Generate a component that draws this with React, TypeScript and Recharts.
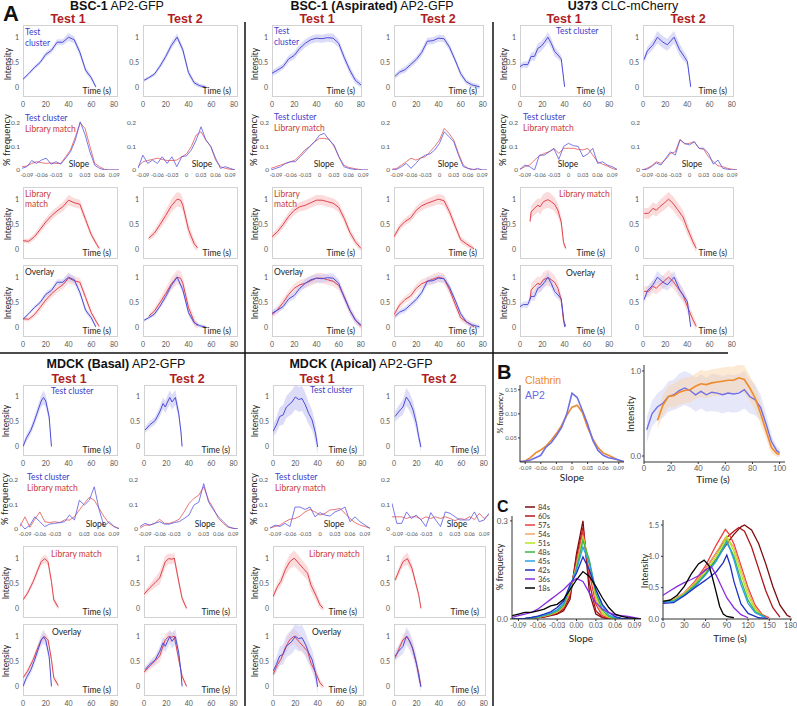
import React from 'react';
import { ComposedChart, Line, Area, XAxis, YAxis } from 'recharts';

const SANS = 'Lato, "Liberation Sans", sans-serif';
const HEAD = '"Liberation Sans", Arial, sans-serif';

const TEST_LINE = '#4c4cda';
const TEST_BAND = '#c4c4f3';
const LIB_LINE = '#e0444c';
const LIB_BAND = '#f9c3c3';
const HIST_BLUE = '#5858e4';
const HIST_RED = '#e45454';
const TXT_BLUE = '#3c3ccc';
const TXT_RED = '#cc3b3b';
const TEST_RED = '#b01e23';

// shared axes
const slopeBins = [-0.1, -0.09, -0.08, -0.07, -0.06, -0.05, -0.04, -0.03, -0.02, -0.01, 0, 0.01, 0.02, 0.03, 0.04, 0.05, 0.06, 0.07, 0.08, 0.09, 0.1];
const slopeTicks = [-0.09, -0.06, -0.03, 0, 0.03, 0.06, 0.09];
const timeTicks = [0, 20, 40, 60, 80];
const intensityTicks = [0, 0.5, 1];
const freqTicks = [0, 0.1, 0.2];

// ---- BSC-1 AP2-GFP ----
const bsc1T1TestTime = [0, 5, 10, 15, 20, 25, 30, 35, 40, 45, 50, 55, 60, 64];
const bsc1T1TestInt = [0.17, 0.28, 0.4, 0.5, 0.66, 0.74, 0.9, 0.9, 1.0, 0.95, 0.7, 0.35, 0.2, 0.02];
const bsc1T1TestSd = [0.03, 0.03, 0.04, 0.04, 0.05, 0.05, 0.06, 0.06, 0.08, 0.07, 0.07, 0.06, 0.05, 0.03];
const bsc1T1LibTime = [0, 5, 10, 15, 20, 25, 30, 35, 40, 45, 50, 55, 60, 65, 67];
const bsc1T1LibInt = [0.18, 0.17, 0.26, 0.4, 0.55, 0.67, 0.77, 0.85, 0.98, 0.93, 0.9, 0.6, 0.3, 0.1, 0.03];
const bsc1T1LibSd = [0.04, 0.05, 0.06, 0.07, 0.08, 0.08, 0.08, 0.09, 0.1, 0.09, 0.09, 0.08, 0.06, 0.05, 0.04];
const bsc1T1HistTest = [0.007, 0.014, 0.04, 0.028, 0.042, 0.05, 0.025, 0.035, 0.025, 0.05, 0.077, 0.127, 0.204, 0.15, 0.077, 0.02, 0.007, 0, 0, 0, 0];
const bsc1T1HistLib = [0.014, 0.017, 0.028, 0.035, 0.031, 0.028, 0.03, 0.028, 0.028, 0.056, 0.085, 0.14, 0.2, 0.176, 0.1, 0.028, 0.014, 0.003, 0, 0, 0];

const bsc1T2TestTime = [1, 5, 10, 15, 20, 25, 30, 35, 40, 45, 50, 55];
const bsc1T2TestInt = [0.15, 0.2, 0.27, 0.43, 0.62, 0.84, 1.0, 0.75, 0.3, 0.1, 0.04, 0.02];
const bsc1T2TestSd = [0.03, 0.03, 0.04, 0.05, 0.06, 0.07, 0.07, 0.07, 0.06, 0.05, 0.04, 0.03];
const bsc1T2LibTime = [5, 10, 15, 20, 25, 30, 33, 35, 40, 45, 48];
const bsc1T2LibInt = [0.23, 0.33, 0.5, 0.68, 0.87, 1.0, 0.98, 0.88, 0.4, 0.12, 0.04];
const bsc1T2LibSd = [0.05, 0.07, 0.09, 0.11, 0.13, 0.14, 0.14, 0.13, 0.12, 0.09, 0.06];
const bsc1T2HistTest = [0.007, 0.063, 0.028, 0.042, 0.028, 0.056, 0.028, 0.056, 0.014, 0.056, 0.06, 0.085, 0.127, 0.183, 0.127, 0.1, 0.05, 0.007, 0.014, 0.007, 0];
const bsc1T2HistLib = [0.014, 0.035, 0.04, 0.045, 0.05, 0.045, 0.04, 0.04, 0.042, 0.056, 0.068, 0.1, 0.148, 0.162, 0.127, 0.1, 0.042, 0.014, 0.007, 0.003, 0];

// ---- BSC-1 (Aspirated) AP2-GFP ----
const aspT1TestTime = [0, 5, 10, 15, 20, 25, 30, 35, 40, 45, 50, 55, 60, 65, 70, 75, 80];
const aspT1TestInt = [0.29, 0.35, 0.42, 0.57, 0.64, 0.78, 0.88, 0.95, 0.98, 0.97, 0.99, 0.98, 0.88, 0.6, 0.35, 0.15, 0.06];
const aspT1TestSd = [0.06, 0.06, 0.06, 0.07, 0.07, 0.08, 0.08, 0.08, 0.08, 0.08, 0.08, 0.09, 0.08, 0.08, 0.08, 0.07, 0.06];
const aspT1LibTime = [0, 5, 10, 15, 20, 25, 30, 35, 40, 45, 50, 55, 60, 65, 70, 75, 80];
const aspT1LibInt = [0.26, 0.36, 0.5, 0.66, 0.78, 0.85, 0.88, 0.93, 0.98, 0.98, 0.95, 0.92, 0.84, 0.62, 0.35, 0.16, 0.03];
const aspT1LibSd = [0.06, 0.07, 0.08, 0.08, 0.09, 0.09, 0.1, 0.1, 0.1, 0.1, 0.1, 0.1, 0.1, 0.09, 0.08, 0.07, 0.06];
const aspT1HistTest = [0, 0.007, 0.014, 0.028, 0.035, 0.035, 0.056, 0.077, 0.1, 0.12, 0.148, 0.155, 0.127, 0.106, 0.056, 0.014, 0.007, 0.003, 0, 0, 0];
const aspT1HistLib = [0.007, 0.014, 0.021, 0.028, 0.035, 0.042, 0.063, 0.085, 0.1, 0.12, 0.134, 0.134, 0.13, 0.1, 0.056, 0.021, 0.011, 0.007, 0.003, 0, 0];

const aspT2TestTime = [1, 5, 10, 15, 20, 25, 30, 35, 40, 45, 50, 55, 60, 65, 70, 77];
const aspT2TestInt = [0.23, 0.31, 0.36, 0.46, 0.56, 0.7, 0.92, 0.93, 0.98, 0.97, 0.8, 0.55, 0.28, 0.12, 0.06, 0.02];
const aspT2TestSd = [0.05, 0.05, 0.06, 0.06, 0.06, 0.07, 0.07, 0.07, 0.07, 0.07, 0.07, 0.06, 0.06, 0.05, 0.05, 0.04];
const aspT2LibTime = [0, 5, 10, 15, 20, 25, 30, 35, 40, 45, 50, 55, 60, 65, 70, 72];
const aspT2LibInt = [0.26, 0.45, 0.56, 0.63, 0.78, 0.87, 0.92, 0.96, 1.0, 0.97, 0.75, 0.47, 0.2, 0.12, 0.05, 0.02];
const aspT2LibSd = [0.06, 0.07, 0.07, 0.08, 0.08, 0.09, 0.09, 0.1, 0.1, 0.1, 0.09, 0.08, 0.07, 0.06, 0.05, 0.05];
const aspT2HistTest = [0, 0.003, 0.014, 0.028, 0.007, 0.028, 0.05, 0.063, 0.068, 0.085, 0.113, 0.162, 0.141, 0.12, 0.063, 0.014, 0.007, 0, 0.007, 0, 0];
const aspT2HistLib = [0.003, 0.007, 0.021, 0.035, 0.05, 0.042, 0.05, 0.056, 0.077, 0.1, 0.127, 0.176, 0.155, 0.127, 0.07, 0.021, 0.007, 0.003, 0, 0, 0];

// ---- U373 CLC-mCherry ----
const u373T1TestTime = [0, 3, 7, 10, 13, 16, 19, 22, 25, 28, 31, 34, 37, 40];
const u373T1TestInt = [0.42, 0.46, 0.46, 0.62, 0.62, 0.78, 0.82, 0.9, 1.0, 0.88, 0.72, 0.65, 0.57, 0.02];
const u373T1TestSd = [0.05, 0.06, 0.07, 0.08, 0.09, 0.1, 0.1, 0.1, 0.1, 0.1, 0.09, 0.08, 0.07, 0.03];
const u373T1LibTime = [9, 10, 13, 16, 18, 21, 25, 28, 31, 34, 37, 39, 41];
const u373T1LibInt = [0.56, 0.75, 0.82, 0.88, 0.85, 0.95, 0.99, 0.95, 0.9, 0.78, 0.55, 0.15, 0.03];
const u373T1LibSd = [0.1, 0.12, 0.13, 0.14, 0.15, 0.15, 0.16, 0.15, 0.14, 0.13, 0.1, 0.07, 0.05];
const u373T1HistTest = [0.003, 0.021, 0.014, 0, 0.063, 0.063, 0.077, 0.09, 0.045, 0.1, 0.113, 0.103, 0.1, 0.056, 0.068, 0.092, 0.028, 0.035, 0.021, 0.014, 0.003];
const u373T1HistLib = [0.003, 0.014, 0.021, 0.042, 0.06, 0.07, 0.077, 0.092, 0.07, 0.092, 0.092, 0.092, 0.087, 0.085, 0.092, 0.063, 0.035, 0.025, 0.017, 0.007, 0];

const u373T2TestTime = [1, 4, 9, 13, 18, 22, 28, 33, 37, 40, 43];
const u373T2TestInt = [0.56, 0.73, 0.85, 1.0, 0.9, 0.85, 1.0, 0.75, 0.62, 0.52, 0.02];
const u373T2TestSd = [0.07, 0.08, 0.1, 0.12, 0.12, 0.12, 0.12, 0.12, 0.1, 0.08, 0.04];
const u373T2LibTime = [1, 5, 9, 12, 15, 19, 23, 27, 31, 36, 40, 45, 48];
const u373T2LibInt = [0.72, 0.72, 0.82, 0.78, 0.85, 0.92, 1.0, 0.92, 0.8, 0.65, 0.42, 0.16, 0.03];
const u373T2LibSd = [0.1, 0.11, 0.12, 0.12, 0.13, 0.14, 0.14, 0.14, 0.14, 0.13, 0.12, 0.1, 0.08];
const u373T2HistTest = [0, 0.003, 0.014, 0.03, 0.021, 0.05, 0.077, 0.063, 0.127, 0.113, 0.106, 0.12, 0.092, 0.092, 0.07, 0.025, 0.042, 0.007, 0.003, 0, 0];
const u373T2HistLib = [0, 0.007, 0.018, 0.035, 0.028, 0.045, 0.07, 0.077, 0.13, 0.11, 0.113, 0.12, 0.092, 0.087, 0.056, 0.035, 0.018, 0.014, 0.007, 0.003, 0];

// ---- MDCK (Basal) AP2-GFP ----
const basalT1TestTime = [0, 3, 7, 10, 13, 16, 18, 20, 23, 25];
const basalT1TestInt = [0.01, 0.18, 0.34, 0.52, 0.72, 0.92, 0.99, 0.92, 0.6, 0.01];
const basalT1TestSd = [0.05, 0.07, 0.08, 0.09, 0.1, 0.12, 0.14, 0.12, 0.1, 0.05];
const basalT1LibTime = [0, 4, 9, 13, 16, 19, 22, 25, 27, 31];
const basalT1LibInt = [0.18, 0.31, 0.54, 0.77, 0.93, 0.99, 0.93, 0.54, 0.18, 0.03];
const basalT1LibSd = [0.04, 0.05, 0.06, 0.07, 0.08, 0.08, 0.08, 0.07, 0.07, 0.05];
const basalT1HistTest = [0.023, 0, 0.016, 0.05, 0.03, 0.01, 0.02, 0.023, 0.026, 0.03, 0.057, 0.037, 0.118, 0.098, 0.118, 0.173, 0.078, 0.01, 0.03, 0.01, 0];
const basalT1HistLib = [0.01, 0.05, 0.007, 0.04, 0.07, 0.03, 0.026, 0.03, 0.026, 0.037, 0.037, 0.05, 0.078, 0.105, 0.13, 0.118, 0.084, 0.05, 0.023, 0.01, 0.003];

const basalT2TestTime = [1, 5, 10, 14, 17, 19, 21, 23, 25, 28, 31, 33, 34];
const basalT2TestInt = [0.34, 0.44, 0.53, 0.7, 0.87, 0.8, 0.9, 0.99, 0.9, 0.99, 0.67, 0.3, 0.01];
const basalT2TestSd = [0.06, 0.07, 0.08, 0.1, 0.12, 0.12, 0.13, 0.14, 0.15, 0.15, 0.1, 0.06, 0.03];
const basalT2LibTime = [0, 5, 10, 14, 19, 22, 25, 27, 31, 34, 38];
const basalT2LibInt = [0.29, 0.41, 0.52, 0.61, 0.93, 0.99, 0.98, 1.0, 0.54, 0.21, 0.01];
const basalT2LibSd = [0.05, 0.07, 0.1, 0.13, 0.12, 0.1, 0.1, 0.1, 0.08, 0.06, 0.04];
const basalT2HistTest = [0.01, 0.023, 0.016, 0.023, 0.03, 0.02, 0.02, 0.026, 0.03, 0.043, 0.057, 0.098, 0.11, 0.186, 0.11, 0.078, 0.05, 0.03, 0.01, 0.003, 0];
const basalT2HistLib = [0.003, 0.016, 0.016, 0.023, 0.04, 0.023, 0.023, 0.03, 0.04, 0.07, 0.105, 0.125, 0.139, 0.173, 0.118, 0.084, 0.043, 0.023, 0.007, 0.003, 0];

// ---- MDCK (Apical) AP2-GFP ----
const apicalT1TestTime = [0, 3, 6, 9, 12, 17, 20, 23, 26, 29, 32, 35, 38, 40];
const apicalT1TestInt = [0.31, 0.44, 0.61, 0.64, 0.8, 0.9, 1.0, 0.95, 0.97, 0.84, 0.67, 0.54, 0.28, 0.0];
const apicalT1TestSd = [0.12, 0.15, 0.18, 0.2, 0.22, 0.24, 0.25, 0.25, 0.25, 0.24, 0.22, 0.2, 0.18, 0.15];
const apicalT1LibTime = [0, 4, 7, 11, 15, 19, 23, 27, 31, 34, 39, 42, 45];
const apicalT1LibInt = [0.24, 0.44, 0.54, 0.77, 0.93, 1.0, 0.9, 0.8, 0.7, 0.47, 0.24, 0.08, 0.01];
const apicalT1LibSd = [0.06, 0.08, 0.1, 0.12, 0.14, 0.15, 0.15, 0.14, 0.13, 0.12, 0.1, 0.08, 0.05];
const apicalT1HistTest = [0.003, 0.016, 0.01, 0.023, 0.01, 0.09, 0.09, 0.08, 0.09, 0.05, 0.067, 0.057, 0.053, 0.07, 0.078, 0.09, 0.03, 0.05, 0.03, 0.016, 0.003];
const apicalT1HistLib = [0.005, 0.01, 0.016, 0.03, 0.04, 0.043, 0.053, 0.07, 0.08, 0.07, 0.057, 0.064, 0.078, 0.08, 0.084, 0.064, 0.043, 0.026, 0.016, 0.01, 0.003];

const apicalT2TestTime = [1, 4, 8, 11, 14, 17, 20, 22, 24];
const apicalT2TestInt = [0.61, 0.7, 0.8, 1.0, 0.9, 0.74, 0.47, 0.21, 0.0];
const apicalT2TestSd = [0.1, 0.12, 0.15, 0.18, 0.18, 0.17, 0.15, 0.12, 0.1];
const apicalT2LibTime = [1, 5, 8, 12, 16, 19, 22, 24];
const apicalT2LibInt = [0.57, 0.78, 0.93, 0.99, 0.8, 0.54, 0.28, 0.01];
const apicalT2LibSd = [0.06, 0.08, 0.1, 0.12, 0.1, 0.08, 0.06, 0.04];
const apicalT2HistTest = [0.105, 0.023, 0.023, 0.07, 0.043, 0.057, 0.037, 0.01, 0.067, 0.037, 0.01, 0.07, 0.064, 0.05, 0.037, 0.037, 0.037, 0.07, 0.03, 0.037, 0.064];
const apicalT2HistLib = [0.05, 0.05, 0.05, 0.043, 0.05, 0.05, 0.039, 0.05, 0.043, 0.05, 0.043, 0.05, 0.043, 0.034, 0.043, 0.039, 0.05, 0.039, 0.064, 0.043, 0.06];

// ---- B ----
const bClathrinSlope = [0, 0.002, 0.009, 0.019, 0.025, 0.033, 0.045, 0.059, 0.076, 0.097, 0.114, 0.118, 0.103, 0.072, 0.048, 0.03, 0.019, 0.014, 0.009, 0.003, 0];
const bAp2Slope = [0.001, 0.002, 0.004, 0.009, 0.014, 0.031, 0.04, 0.055, 0.072, 0.1, 0.143, 0.134, 0.107, 0.079, 0.045, 0.024, 0.014, 0.009, 0.007, 0.004, 0.001];
const bAp2Time = [2, 6, 10, 14, 18, 22, 26, 30, 34, 38, 42, 46, 50, 54, 58, 62, 66, 70, 74, 78, 82, 86, 90, 94, 98, 100];
const bAp2Int = [0.31, 0.5, 0.58, 0.62, 0.7, 0.72, 0.77, 0.8, 0.77, 0.72, 0.76, 0.72, 0.75, 0.74, 0.72, 0.74, 0.73, 0.74, 0.78, 0.7, 0.66, 0.57, 0.38, 0.17, 0.06, 0.04];
const bAp2Sd = [0.15, 0.15, 0.16, 0.17, 0.18, 0.18, 0.2, 0.2, 0.2, 0.2, 0.2, 0.2, 0.22, 0.22, 0.22, 0.22, 0.22, 0.22, 0.22, 0.2, 0.18, 0.15, 0.12, 0.08, 0.05, 0.04];
const bClathrinTime = [10, 14, 18, 22, 26, 30, 34, 38, 42, 46, 50, 54, 58, 62, 66, 70, 74, 78, 82, 86, 90, 94, 98, 100];
const bClathrinInt = [0.42, 0.6, 0.7, 0.71, 0.75, 0.77, 0.78, 0.82, 0.85, 0.84, 0.86, 0.87, 0.88, 0.89, 0.89, 0.92, 0.9, 0.8, 0.68, 0.5, 0.3, 0.1, 0.03, 0.02];
const bClathrinSd = [0.1, 0.12, 0.13, 0.14, 0.15, 0.15, 0.15, 0.15, 0.16, 0.16, 0.16, 0.16, 0.16, 0.16, 0.16, 0.16, 0.16, 0.15, 0.14, 0.13, 0.1, 0.07, 0.04, 0.03];

// ---- C ----
const cLabels = ['84s', '60s', '57s', '54s', '51s', '48s', '45s', '42s', '36s', '18s'];
const cColors = ['#7b0c0c', '#b0171b', '#f03c3c', '#f2a66a', '#b5e61d', '#3cb44b', '#2aa0e6', '#1f2fc0', '#8a2be2', '#000000'];
const cSlope84 = [0, 0, 0, 0.002, 0.004, 0.006, 0.01, 0.015, 0.025, 0.06, 0.2, 0.3, 0.08, 0.015, 0.004, 0.001, 0, 0, 0, 0, 0];
const cSlope60 = [0, 0, 0, 0.002, 0.004, 0.007, 0.012, 0.017, 0.03, 0.07, 0.19, 0.28, 0.11, 0.025, 0.006, 0.002, 0, 0, 0, 0, 0];
const cSlope57 = [0, 0, 0, 0.003, 0.005, 0.008, 0.013, 0.02, 0.035, 0.08, 0.17, 0.27, 0.14, 0.045, 0.01, 0.003, 0.001, 0, 0, 0, 0];
const cSlope54 = [0, 0, 0.001, 0.003, 0.006, 0.009, 0.014, 0.021, 0.038, 0.085, 0.165, 0.255, 0.16, 0.06, 0.015, 0.005, 0.002, 0, 0, 0, 0];
const cSlope51 = [0, 0, 0.001, 0.003, 0.006, 0.01, 0.015, 0.022, 0.04, 0.09, 0.16, 0.25, 0.17, 0.07, 0.02, 0.006, 0.002, 0.001, 0, 0, 0];
const cSlope48 = [0, 0, 0.001, 0.003, 0.006, 0.01, 0.016, 0.024, 0.042, 0.095, 0.155, 0.24, 0.18, 0.08, 0.028, 0.008, 0.003, 0.001, 0, 0, 0];
const cSlope45 = [0, 0.001, 0.002, 0.004, 0.007, 0.012, 0.018, 0.028, 0.048, 0.1, 0.15, 0.22, 0.17, 0.09, 0.04, 0.012, 0.004, 0.001, 0, 0, 0];
const cSlope42 = [0, 0.001, 0.002, 0.005, 0.009, 0.015, 0.022, 0.035, 0.055, 0.105, 0.14, 0.19, 0.15, 0.09, 0.045, 0.02, 0.007, 0.002, 0.001, 0, 0];
const cSlope36 = [0.005, 0.01, 0.015, 0.02, 0.03, 0.045, 0.06, 0.075, 0.09, 0.11, 0.124, 0.115, 0.08, 0.05, 0.03, 0.02, 0.012, 0.01, 0.008, 0.004, 0];
const cSlope18 = [0.01, 0.015, 0.02, 0.02, 0.025, 0.03, 0.04, 0.045, 0.06, 0.09, 0.12, 0.145, 0.13, 0.1, 0.065, 0.035, 0.015, 0.008, 0.004, 0.002, 0];

const cTime84 = [0, 15, 30, 45, 60, 75, 90, 100, 110, 115, 125, 135, 145, 155, 165, 175, 180];
const cInt84 = [0.28, 0.3, 0.38, 0.52, 0.72, 0.95, 1.2, 1.35, 1.47, 1.5, 1.42, 1.2, 0.88, 0.52, 0.22, 0.06, 0.03];
const cTime60 = [0, 15, 30, 45, 60, 75, 90, 100, 107, 115, 125, 135, 145, 155, 165];
const cInt60 = [0.27, 0.3, 0.4, 0.57, 0.8, 1.05, 1.3, 1.4, 1.46, 1.4, 1.15, 0.8, 0.45, 0.18, 0.03];
const cTime57 = [0, 15, 30, 45, 60, 75, 88, 93, 100, 110, 120, 130, 140, 150];
const cInt57 = [0.28, 0.31, 0.42, 0.6, 0.85, 1.18, 1.43, 1.36, 1.2, 0.85, 0.5, 0.22, 0.07, 0.02];
const cTime54 = [0, 15, 30, 45, 60, 75, 85, 88, 95, 100, 110, 120, 130, 140];
const cInt54 = [0.29, 0.31, 0.42, 0.58, 0.8, 1.05, 1.25, 1.3, 1.22, 1.15, 0.8, 0.45, 0.18, 0.05];
const cTime51 = [0, 15, 30, 45, 60, 75, 85, 90, 95, 100, 110, 120, 130, 140];
const cInt51 = [0.28, 0.3, 0.4, 0.56, 0.75, 1.0, 1.2, 1.32, 1.2, 1.08, 0.72, 0.38, 0.15, 0.05];
const cTime48 = [0, 15, 30, 45, 60, 75, 85, 90, 95, 100, 110, 120, 130, 145];
const cInt48 = [0.28, 0.29, 0.39, 0.54, 0.72, 0.95, 1.15, 1.25, 1.12, 1.0, 0.62, 0.3, 0.12, 0.03];
const cTime45 = [0, 15, 30, 45, 60, 75, 85, 90, 95, 100, 110, 120, 130, 145];
const cInt45 = [0.27, 0.28, 0.38, 0.52, 0.7, 0.92, 1.12, 1.22, 1.1, 0.95, 0.55, 0.25, 0.1, 0.02];
const cTime42 = [0, 15, 30, 45, 60, 75, 85, 90, 95, 100, 110, 120, 135, 148];
const cInt42 = [0.25, 0.26, 0.37, 0.5, 0.62, 0.75, 0.9, 1.02, 0.85, 0.6, 0.24, 0.09, 0.02, 0.01];
const cTime36 = [0, 10, 20, 30, 40, 50, 60, 68, 75, 80, 90, 100, 110, 120];
const cInt36 = [0.38, 0.45, 0.52, 0.58, 0.63, 0.69, 0.78, 0.84, 0.7, 0.58, 0.34, 0.18, 0.07, 0.02];
const cTime18 = [0, 10, 20, 30, 40, 50, 58, 65, 70, 75, 80, 85, 90, 100];
const cInt18 = [0.28, 0.3, 0.38, 0.52, 0.72, 0.88, 0.94, 0.85, 0.65, 0.43, 0.2, 0.08, 0.04, 0.02];

type Curve = { t: number[]; m: number[]; s?: number[] };
const toRows = (c: Curve) =>
  c.t.map((x, i) => ({ x, y: c.m[i], band: c.s ? [c.m[i] - c.s[i], c.m[i] + c.s[i]] : null }));
const histRows = (v: number[]) => slopeBins.map((x, i) => ({ x, y: v[i] }));

type Series = { rows: any[]; line: string; band?: string; width?: number };
type PlotProps = {
  left: number; top: number; w: number; h: number;
  xDomain: [number, number]; yDomain: [number, number];
  xTicks: number[]; yTicks: number[];
  xFmt: (v: number) => string; yFmt: (v: number) => string;
  showX: boolean; xFont: number; yFont: number; xDy: number; yDx: number;
  series: Series[]; box?: boolean; axes?: boolean; bandOpacity?: number;
};

function Plot(p: PlotProps) {
  const YW = 26, PT = 8, PR = 16;
  const xh = p.showX ? 18 : 0;
  const axisLine = p.axes ? { stroke: '#333', strokeWidth: 1 } : false;
  const tickLine = p.axes ? { stroke: '#333' } : false;
  const ts = p.axes ? 2 : 0;
  return (
    <>
      {p.box && (
        <div style={{ position: 'absolute', left: p.left, top: p.top, width: p.w, height: p.h, border: '1px solid #d2d2d2', boxSizing: 'border-box' }} />
      )}
      <div style={{ position: 'absolute', left: p.left - YW, top: p.top - PT }}>
        <ComposedChart width={YW + p.w + PR} height={PT + p.h + xh} margin={{ top: PT, right: PR, bottom: 0, left: 0 }}>
          <XAxis
            type="number" dataKey="x" domain={p.xDomain} allowDataOverflow ticks={p.xTicks} interval={0}
            hide={!p.showX} height={xh} axisLine={axisLine} tickLine={tickLine} tickSize={ts} tickMargin={0}
            tick={(t: any) => (
              <text x={t.x} y={t.y + p.xDy} textAnchor="middle" fontSize={p.xFont} fill="#555" fontFamily={SANS}>
                {p.xFmt(t.payload.value)}
              </text>
            )}
          />
          <YAxis
            type="number" domain={p.yDomain} allowDataOverflow ticks={p.yTicks} interval={0}
            width={YW} axisLine={axisLine} tickLine={tickLine} tickSize={ts} tickMargin={0}
            tick={(t: any) => (
              <text x={t.x - p.yDx} y={t.y + p.yFont * 0.35} textAnchor="end" fontSize={p.yFont} fill="#555" fontFamily={SANS}>
                {p.yFmt(t.payload.value)}
              </text>
            )}
          />
          {p.series.map((s, i) =>
            s.band ? (
              <Area key={'b' + i} data={s.rows} dataKey="band" stroke="none" fill={s.band}
                fillOpacity={p.bandOpacity ?? 0.6} isAnimationActive={false} />
            ) : null
          )}
          {p.series.map((s, i) => (
            <Line key={'l' + i} data={s.rows} dataKey="y" stroke={s.line} strokeWidth={s.width ?? 1}
              dot={false} isAnimationActive={false} />
          ))}
        </ComposedChart>
      </div>
    </>
  );
}

const TOP = { y: [25, 111, 187, 265], h: [72, 59, 72, 72], slopeBase: 167 };
const BOTTOM = { y: [385, 468, 546, 624], h: [71, 61, 72, 72], slopeBase: 527 };

type Col = {
  sec: typeof TOP; tx: number; w: number; xmax: number; sx: number; sw: number; slopeX: number;
  test: Curve; lib: Curve; hTest: number[]; hLib: number[];
};

const columns: Col[] = [
  { sec: TOP, tx: 23, w: 95, xmax: 83.5, sx: 22, sw: 97, slopeX: 79,
    test: { t: bsc1T1TestTime, m: bsc1T1TestInt, s: bsc1T1TestSd }, lib: { t: bsc1T1LibTime, m: bsc1T1LibInt, s: bsc1T1LibSd }, hTest: bsc1T1HistTest, hLib: bsc1T1HistLib },
  { sec: TOP, tx: 143, w: 95, xmax: 83.5, sx: 138, sw: 97, slopeX: 202,
    test: { t: bsc1T2TestTime, m: bsc1T2TestInt, s: bsc1T2TestSd }, lib: { t: bsc1T2LibTime, m: bsc1T2LibInt, s: bsc1T2LibSd }, hTest: bsc1T2HistTest, hLib: bsc1T2HistLib },
  { sec: TOP, tx: 272, w: 90, xmax: 81, sx: 271, sw: 97, slopeX: 324,
    test: { t: aspT1TestTime, m: aspT1TestInt, s: aspT1TestSd }, lib: { t: aspT1LibTime, m: aspT1LibInt, s: aspT1LibSd }, hTest: aspT1HistTest, hLib: aspT1HistLib },
  { sec: TOP, tx: 394, w: 90, xmax: 81, sx: 392, sw: 95, slopeX: 448,
    test: { t: aspT2TestTime, m: aspT2TestInt, s: aspT2TestSd }, lib: { t: aspT2LibTime, m: aspT2LibInt, s: aspT2LibSd }, hTest: aspT2HistTest, hLib: aspT2HistLib },
  { sec: TOP, tx: 520, w: 92, xmax: 82.5, sx: 520, sw: 97, slopeX: 568,
    test: { t: u373T1TestTime, m: u373T1TestInt, s: u373T1TestSd }, lib: { t: u373T1LibTime, m: u373T1LibInt, s: u373T1LibSd }, hTest: u373T1HistTest, hLib: u373T1HistLib },
  { sec: TOP, tx: 643, w: 91, xmax: 82, sx: 642, sw: 95, slopeX: 692,
    test: { t: u373T2TestTime, m: u373T2TestInt, s: u373T2TestSd }, lib: { t: u373T2LibTime, m: u373T2LibInt, s: u373T2LibSd }, hTest: u373T2HistTest, hLib: u373T2HistLib },
  { sec: BOTTOM, tx: 23, w: 95, xmax: 83.5, sx: 20, sw: 99, slopeX: 96,
    test: { t: basalT1TestTime, m: basalT1TestInt, s: basalT1TestSd }, lib: { t: basalT1LibTime, m: basalT1LibInt, s: basalT1LibSd }, hTest: basalT1HistTest, hLib: basalT1HistLib },
  { sec: BOTTOM, tx: 144, w: 93, xmax: 83, sx: 140, sw: 98, slopeX: 205,
    test: { t: basalT2TestTime, m: basalT2TestInt, s: basalT2TestSd }, lib: { t: basalT2LibTime, m: basalT2LibInt, s: basalT2LibSd }, hTest: basalT2HistTest, hLib: basalT2HistLib },
  { sec: BOTTOM, tx: 273, w: 91, xmax: 81.5, sx: 270, sw: 100, slopeX: 334,
    test: { t: apicalT1TestTime, m: apicalT1TestInt, s: apicalT1TestSd }, lib: { t: apicalT1LibTime, m: apicalT1LibInt, s: apicalT1LibSd }, hTest: apicalT1HistTest, hLib: apicalT1HistLib },
  { sec: BOTTOM, tx: 394, w: 92, xmax: 82, sx: 392, sw: 97, slopeX: 457,
    test: { t: apicalT2TestTime, m: apicalT2TestInt, s: apicalT2TestSd }, lib: { t: apicalT2LibTime, m: apicalT2LibInt, s: apicalT2LibSd }, hTest: apicalT2HistTest, hLib: apicalT2HistLib },
];

const slopeFmt = (v: number) => (v === 0 ? '0' : v.toFixed(2));

function Column({ c }: { c: Col }) {
  const g = c.sec;
  const testRows = toRows(c.test);
  const libRows = toRows(c.lib);
  const time = {
    left: c.tx, w: c.w, xDomain: [0, c.xmax] as [number, number], yDomain: [-0.18, 1.24] as [number, number],
    xTicks: timeTicks, yTicks: intensityTicks, xFmt: String, yFmt: String,
    xFont: 7, yFont: 7, xDy: 9.5, yDx: 4, box: true,
  };
  return (
    <>
      <Plot {...time} top={g.y[0]} h={g.h[0]} showX series={[{ rows: testRows, line: TEST_LINE, band: TEST_BAND }]} />
      <Plot
        left={c.sx} top={g.y[1]} w={c.sw} h={g.h[1]} xDomain={[-0.1, 0.1]} yDomain={[0, 0.25]}
        xTicks={slopeTicks} yTicks={freqTicks} xFmt={slopeFmt} yFmt={String}
        showX xFont={5.5} yFont={6.5} xDy={6.5} yDx={2}
        series={[{ rows: histRows(c.hLib), line: HIST_RED, width: 0.8 }, { rows: histRows(c.hTest), line: HIST_BLUE, width: 0.8 }]}
      />
      <Plot {...time} top={g.y[2]} h={g.h[2]} showX={false} series={[{ rows: libRows, line: LIB_LINE, band: LIB_BAND }]} />
      <Plot {...time} top={g.y[3]} h={g.h[3]} showX bandOpacity={0.5}
        series={[{ rows: libRows, line: LIB_LINE, band: LIB_BAND }, { rows: testRows, line: TEST_LINE, band: TEST_BAND }]} />
    </>
  );
}

const T = (x: number, y: number, s: string, fill = '#222', size = 8.5, anchor: 'start' | 'middle' | 'end' = 'start') => (
  <text x={x} y={y} fill={fill} fontSize={size} fontFamily={SANS} textAnchor={anchor}>{s}</text>
);
const V = (x: number, y: number, s: string, size = 8.5) => (
  <text transform={`translate(${x},${y}) rotate(-90)`} textAnchor="middle" fontSize={size} fontFamily={SANS} fill="#222">{s}</text>
);
const Title = (x: number, y: number, bold: string, rest: string) => (
  <text x={x} y={y} textAnchor="middle" fontSize={12.5} fontFamily={HEAD} fill="#111">
    <tspan fontWeight="bold">{bold}</tspan>{rest}
  </text>
);
const TestLabel = (x: number, y: number, s: string) => (
  <text x={x} y={y} textAnchor="middle" fontSize={12.5} fontWeight="bold" fontFamily={HEAD} fill={TEST_RED}>{s}</text>
);

export default function App() {
  const cSlopes = [cSlope84, cSlope60, cSlope57, cSlope54, cSlope51, cSlope48, cSlope45, cSlope42, cSlope36, cSlope18];
  const cTimes = [cTime84, cTime60, cTime57, cTime54, cTime51, cTime48, cTime45, cTime42, cTime36, cTime18];
  const cInts = [cInt84, cInt60, cInt57, cInt54, cInt51, cInt48, cInt45, cInt42, cInt36, cInt18];

  return (
    <div style={{ position: 'absolute', left: 0, top: 0, width: 797, height: 706, background: '#fff', overflow: 'hidden' }}>
      {columns.map((c, i) => <Column key={i} c={c} />)}

      {/* B */}
      <Plot
        left={520} top={385} w={104} h={77} xDomain={[-0.1, 0.1]} yDomain={[0, 0.16]}
        xTicks={slopeTicks} yTicks={[0.05, 0.1, 0.15]} xFmt={slopeFmt} yFmt={(v) => v.toFixed(2)}
        showX xFont={5.5} yFont={6} xDy={6} yDx={1} axes
        series={[{ rows: histRows(bClathrinSlope), line: '#ee8a2c', width: 1.6 }, { rows: histRows(bAp2Slope), line: '#7070e6', width: 1.6 }]}
      />
      <Plot
        left={644} top={365} w={141} h={97} xDomain={[0, 104]} yDomain={[-0.07, 1.07]}
        xTicks={[0, 20, 40, 60, 80, 100]} yTicks={[0, 1]} xFmt={String} yFmt={(v) => v.toFixed(1)}
        showX xFont={7.5} yFont={7.5} xDy={6.5} yDx={1} axes bandOpacity={0.45}
        series={[
          { rows: toRows({ t: bAp2Time, m: bAp2Int, s: bAp2Sd }), line: '#7070e6', band: '#c9c9f5', width: 1.4 },
          { rows: toRows({ t: bClathrinTime, m: bClathrinInt, s: bClathrinSd }), line: '#ee8a2c', band: '#fbd0a0', width: 1.6 },
        ]}
      />

      {/* C */}
      <Plot
        left={512} top={516} w={129} h={103} xDomain={[-0.1, 0.1]} yDomain={[0, 0.315]}
        xTicks={slopeTicks} yTicks={[0, 0.3]} xFmt={(v) => v.toFixed(2)} yFmt={(v) => v.toFixed(1)}
        showX xFont={7} yFont={8} xDy={7} yDx={2} axes
        series={cSlopes.map((v, i) => ({ rows: histRows(v), line: cColors[i], width: 1.3 }))}
      />
      <Plot
        left={663} top={520} w={129} h={99} xDomain={[0, 182]} yDomain={[0, 1.58]}
        xTicks={[0, 30, 60, 90, 120, 150, 180]} yTicks={[0, 0.5, 1, 1.5]} xFmt={String} yFmt={(v) => v.toFixed(1)}
        showX xFont={7.5} yFont={7.5} xDy={7} yDx={2} axes
        series={cTimes.map((t, i) => ({ rows: toRows({ t, m: cInts[i] }), line: cColors[i], width: 1.3 }))}
      />

      <svg width={797} height={706} style={{ position: 'absolute', left: 0, top: 0, pointerEvents: 'none' }}>
        <line x1={245} y1={22} x2={245} y2={706} stroke="#111" strokeWidth={1.5} />
        <line x1={493} y1={22} x2={493} y2={706} stroke="#111" strokeWidth={1.5} />
        <line x1={0} y1={353} x2={728} y2={353} stroke="#111" strokeWidth={1.5} />

        <text x={3} y={21} fontSize={22} fontWeight="bold" fontFamily={HEAD} fill="#111">A</text>
        {Title(117, 10, 'BSC-1', ' AP2-GFP')}
        {Title(372, 10, 'BSC-1 (Aspirated)', ' AP2-GFP')}
        {Title(623, 10, 'U373', ' CLC-mCherry')}
        {Title(116, 368, 'MDCK (Basal)', ' AP2-GFP')}
        {Title(361, 368, 'MDCK (Apical)', ' AP2-GFP')}
        {TestLabel(68, 23, 'Test  1')}{TestLabel(185, 23, 'Test  2')}
        {TestLabel(317, 23, 'Test  1')}{TestLabel(438, 23, 'Test  2')}
        {TestLabel(564, 23, 'Test  1')}{TestLabel(688, 23, 'Test  2')}
        {TestLabel(69, 383, 'Test  1')}{TestLabel(187, 383, 'Test  2')}
        {TestLabel(317, 383, 'Test  1')}{TestLabel(439, 383, 'Test  2')}

        {[10.5, 258, 507].map((x) => (
          <g key={x}>{V(x, 64, 'Intensity')}{V(x - 1, 140, '% frequency', 9.5)}{V(x, 224, 'Intensity')}{V(x, 303, 'Intensity')}</g>
        ))}
        {[8.5, 258].map((x) => (
          <g key={x}>{V(x, 421, 'Intensity')}{V(x - 1, 499, '% frequency', 9.5)}{V(x, 583, 'Intensity')}{V(x, 661, 'Intensity')}</g>
        ))}

        {columns.map((c, i) => (
          <g key={i}>
            {[0, 2, 3].map((r) => (
              <g key={r}>{T(c.tx + c.w - 7, c.sec.y[r] + c.sec.h[r] - 3, 'Time (s)', '#222', 8.5, 'end')}</g>
            ))}
            {T(c.slopeX, c.sec.slopeBase, 'Slope', '#222', 8.5, 'middle')}
          </g>
        ))}

        {/* BSC-1 annotations */}
        {T(25, 35, 'Test', TXT_BLUE)}{T(25, 46, 'cluster', TXT_BLUE)}
        {T(25, 121, 'Test cluster', TXT_BLUE)}{T(25, 132, 'Library match', TXT_RED)}
        {T(25, 197, 'Library', TXT_RED)}{T(25, 207, 'match', TXT_RED)}
        {T(25, 275, 'Overlay')}
        {/* Aspirated */}
        {T(274, 34, 'Test', TXT_BLUE)}{T(274, 45, 'cluster', TXT_BLUE)}
        {T(274, 120, 'Test cluster', TXT_BLUE)}{T(274, 131, 'Library match', TXT_RED)}
        {T(274, 197, 'Library', TXT_RED)}{T(274, 207, 'match', TXT_RED)}
        {T(274, 275, 'Overlay')}
        {/* U373 */}
        {T(556, 34, 'Test cluster', TXT_BLUE)}
        {T(523, 120, 'Test cluster', TXT_BLUE)}{T(523, 131, 'Library match', TXT_RED)}
        {T(559, 197, 'Library match', TXT_RED)}
        {T(566, 276, 'Overlay')}
        {/* Basal */}
        {T(51, 394, 'Test cluster', TXT_BLUE)}
        {T(27, 480, 'Test cluster', TXT_BLUE)}{T(27, 491, 'Library match', TXT_RED)}
        {T(51, 557, 'Library match', TXT_RED)}
        {T(52, 635, 'Overlay')}
        {/* Apical */}
        {T(310, 393, 'Test cluster', TXT_BLUE)}
        {T(275, 480, 'Test cluster', TXT_BLUE)}{T(275, 491, 'Library match', TXT_RED)}
        {T(309, 557, 'Library match', TXT_RED)}
        {T(312, 635, 'Overlay')}

        {/* B */}
        <text x={497} y={379} fontSize={20} fontWeight="bold" fontFamily={HEAD} fill="#111">B</text>
        <text x={525} y={384} fontSize={10.5} fontFamily={HEAD} fill="#ee8a2c">Clathrin</text>
        <text x={525} y={399} fontSize={10.5} fontFamily={HEAD} fill="#6a6ae6">AP2</text>
        {V(503, 413, '% frequency', 7.5)}
        {T(572, 481, 'Slope', '#222', 10, 'middle')}
        {V(634, 414, 'Intensity', 9.5)}
        {T(713, 483, 'Time (s)', '#222', 10, 'middle')}

        {/* C */}
        <text x={497} y={512} fontSize={16} fontWeight="bold" fontFamily={HEAD} fill="#111">C</text>
        {cLabels.map((l, i) => (
          <g key={l}>
            <line x1={525} x2={535} y1={507 + 9 * i} y2={507 + 9 * i} stroke={cColors[i]} strokeWidth={1.5} />
            <text x={538} y={509.5 + 9 * i} fontSize={7.5} fontFamily={SANS} fill="#333">{l}</text>
          </g>
        ))}
        {V(503, 567, '% frequency', 8.5)}
        {T(581, 642, 'Slope', '#222', 10, 'middle')}
        {V(648, 571, 'Intensity', 9)}
        {T(730, 642, 'Time (s)', '#222', 10, 'middle')}
      </svg>
    </div>
  );
}
